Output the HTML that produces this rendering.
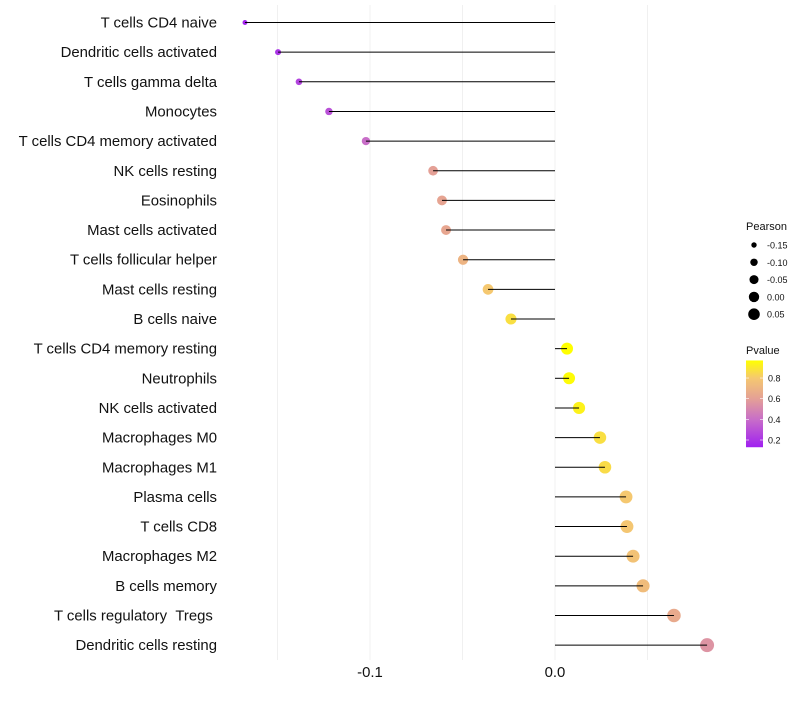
<!DOCTYPE html>
<html><head><meta charset="utf-8"><style>
body{margin:0;background:#fff;font-family:"Liberation Sans",sans-serif}
</style></head><body>
<svg id="c" width="800" height="700" xmlns="http://www.w3.org/2000/svg"></svg>
<script>
const categories=["T cells CD4 naive","Dendritic cells activated","T cells gamma delta","Monocytes","T cells CD4 memory activated","NK cells resting","Eosinophils","Mast cells activated","T cells follicular helper","Mast cells resting","B cells naive","T cells CD4 memory resting","Neutrophils","NK cells activated","Macrophages M0","Macrophages M1","Plasma cells","T cells CD8","Macrophages M2","B cells memory","T cells regulatory\u00a0\u00a0Tregs\u00a0","Dendritic cells resting"];
const pearson=[-0.1676,-0.1497,-0.1384,-0.1222,-0.1022,-0.0659,-0.0611,-0.0589,-0.0497,-0.0362,-0.0238,0.0065,0.0076,0.013,0.0243,0.027,0.0384,0.0389,0.0422,0.0476,0.0643,0.0822];
const pvalue=[0.15,0.2,0.25,0.3,0.4,0.6,0.62,0.63,0.7,0.8,0.87,0.97,0.96,0.93,0.87,0.86,0.8,0.79,0.77,0.74,0.65,0.55];
const xTicks=[-0.1,0.0];
const xTickLabels=["-0.1","0.0"];
const gridMinor=[-0.15,-0.05,0.05];
const sizeLegend=[-0.15,-0.10,-0.05,0.00,0.05];
const sizeLegendLabels=["-0.15","-0.10","-0.05","0.00","0.05"];
const colorLegend=[0.8,0.6,0.4,0.2];

const svg=document.getElementById('c');const NS="http://www.w3.org/2000/svg";
function el(t,a){const e=document.createElementNS(NS,t);for(const k in a)e.setAttribute(k,a[k]);svg.appendChild(e);return e;}
const x=v=>555+v*1850;
const y=i=>22.5+i*29.65;
const r=v=>Math.sqrt(Math.max(2.5,9+172*(v+0.15)));
const rl=v=>Math.sqrt(7.3+131*(v+0.15));
const stops=[[0.13,[160,32,240]],[0.4,[200,110,200]],[0.6,[228,160,150]],[0.8,[245,200,112]],[0.97,[255,255,0]]];
function col(p){p=Math.max(0.13,Math.min(0.97,p));for(let i=0;i<stops.length-1;i++){const[a,ca]=stops[i],[b,cb]=stops[i+1];if(p<=b){const t=(p-a)/(b-a);return`rgb(${ca.map((c,j)=>Math.round(c+(cb[j]-c)*t)).join(',')})`;}}return'rgb(255,255,0)';}
gridMinor.concat(xTicks).forEach(v=>{const g=el('line',{x1:x(v),x2:x(v),y1:5,y2:660,stroke:'#f0f0f0','stroke-width':1});

});
xTicks.forEach((v,i)=>{const t=el('text',{x:x(v),y:677,'text-anchor':'middle','font-size':14.9,fill:'#111'});t.textContent=xTickLabels[i];

});
categories.forEach((c,i)=>{
const t=el('text',{x:217,y:y(i)+5,'text-anchor':'end','font-size':14.9,fill:'#111'});t.textContent=c;


const d=el('circle',{cx:x(pearson[i]),cy:y(i),r:r(pearson[i]),fill:col(pvalue[i])});


const l=el('line',{x1:x(0),x2:x(pearson[i]),y1:y(i),y2:y(i),stroke:'#000','stroke-width':1});


});
let t=el('text',{x:746,y:230,'font-size':11,fill:'#111'});t.textContent="Pearson";


sizeLegend.forEach((v,i)=>{const cy=245+i*17.3;
const c=el('circle',{cx:754,cy:cy,r:rl(v),fill:'#000'});


const tt=el('text',{x:767,y:cy+3.5,'font-size':9,fill:'#111'});tt.textContent=sizeLegendLabels[i];

});
t=el('text',{x:746,y:354,'font-size':11,fill:'#111'});t.textContent="Pvalue";


const defs=el('defs',{});const lg=document.createElementNS(NS,'linearGradient');lg.setAttribute('id','g');lg.setAttribute('x1',0);lg.setAttribute('x2',0);lg.setAttribute('y1',1);lg.setAttribute('y2',0);defs.appendChild(lg);
stops.forEach(s=>{const st=document.createElementNS(NS,'stop');st.setAttribute('offset',(s[0]-0.13)/(0.97-0.13));st.setAttribute('stop-color',`rgb(${s[1].join(',')})`);lg.appendChild(st);});
const cy0=v=>440-(v-0.2)*103.3;
const bar=el('rect',{x:746,y:cy0(0.97),width:17,height:cy0(0.13)-cy0(0.97),fill:'url(#g)'});


colorLegend.forEach(v=>{
el('line',{x1:746,x2:749,y1:cy0(v),y2:cy0(v),stroke:'#fff','stroke-width':0.6});
el('line',{x1:760,x2:763,y1:cy0(v),y2:cy0(v),stroke:'#fff','stroke-width':0.6});
const tt=el('text',{x:768,y:cy0(v)+3.5,'font-size':9,fill:'#111'});tt.textContent=v.toFixed(1);

});
</script>
</body></html>
